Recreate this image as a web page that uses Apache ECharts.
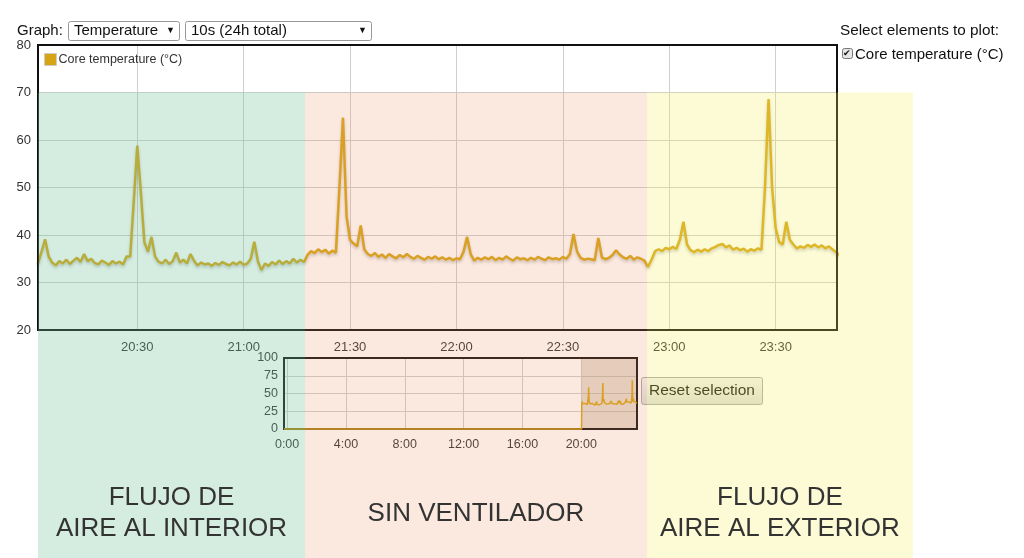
<!DOCTYPE html>
<html><head><meta charset="utf-8">
<script src="https://cdn.jsdelivr.net/npm/echarts@6/dist/echarts.min.js"></script>
<style>html,body{margin:0;padding:0;background:#fff;} #c{width:1024px;height:558px;}</style>
</head><body><div id="c"></div>
<script>
// ---------------- data ----------------
const seriesName = 'Core temperature (°C)';
const startMinute = 2;      // first sample, minutes after 20:00
const stepMinutes = 1;      // sample spacing (minutes)
const temps = [
  34.0, 36.5, 39.1, 35.5, 34.2, 33.6, 34.5, 34.0, 34.8, 33.9,
  34.6, 35.2, 34.3, 36.0, 34.5, 35.0, 34.1, 33.8, 34.6, 34.2,
  33.7, 34.5, 34.0, 34.4, 33.8, 35.5, 35.5, 47.0, 58.8, 49.0,
  38.5, 36.5, 39.6, 35.5, 34.4, 34.0, 34.8, 33.9, 34.5, 36.3,
  34.2, 34.8, 34.0, 36.0, 34.6, 33.6, 34.2, 33.8, 34.0, 33.5,
  34.1, 33.7, 34.3, 33.9, 33.6, 34.2, 33.8, 34.4, 33.7, 34.0,
  35.0, 38.6, 34.5, 32.6, 34.0, 33.5, 34.3, 33.8, 34.6, 33.9,
  34.5, 34.0, 35.0, 34.2, 34.8, 34.3, 35.8, 36.6, 36.2, 37.0,
  36.4, 36.9, 36.1, 36.7, 36.3, 50.0, 64.7, 44.0, 39.0, 38.2,
  37.6, 42.0, 37.0, 36.0, 35.6, 36.2, 35.4, 35.9, 35.2, 36.0,
  35.5, 35.1, 35.8, 35.3, 36.0, 35.4, 35.0, 35.6, 35.2, 34.8,
  35.4, 35.0, 35.5, 34.9, 35.3, 34.8, 35.2, 34.7, 35.1, 34.9,
  36.5, 39.6, 36.0, 34.6, 35.2, 34.8, 35.3, 34.9, 35.4, 34.7,
  35.2, 34.8, 35.5, 35.0, 34.6, 35.3, 34.9, 35.1, 34.7, 35.2,
  34.8, 35.4, 35.0, 34.7, 35.3, 34.9, 35.1, 34.8, 35.4, 35.0,
  36.0, 40.2, 36.5, 35.2, 34.8, 35.0, 34.9, 34.7, 39.4, 35.3,
  34.9, 35.2, 35.8, 36.8, 35.9, 35.3, 35.0, 35.6, 34.8, 35.3,
  35.0, 34.6, 33.3, 34.8, 36.6, 37.0, 36.6, 37.3, 37.0, 37.5,
  37.1, 39.0, 42.8, 38.0, 36.8, 36.4, 36.9, 36.5, 37.0, 36.6,
  37.2, 37.5, 37.9, 38.1, 37.4, 37.8, 36.9, 37.3, 36.8, 37.1,
  36.5, 37.0, 36.7, 37.2, 36.9, 50.0, 68.6, 50.0, 41.5, 38.5,
  38.0, 42.8, 39.0, 38.0, 37.2, 37.6, 37.3, 37.9, 37.5, 38.0,
  37.4, 37.8, 37.2, 37.6, 37.0, 36.4, 35.8
];
const mainMinMinute = 2;
const mainMaxMinute = 227.3;
const mainYMin = 20, mainYMax = 80, mainYStep = 10;
const overviewMinMinute = mainMaxMinute - 1440;   // 24h window
const overviewZeroMinutes = [overviewMinMinute, 1]; // sensor reading 0 before start
const overviewZeroValues = [0, 0];
const overviewYMin = 0, overviewYMax = 100, overviewYStep = 25;

const zoneLabels = [['FLUJO DE', 'AIRE AL INTERIOR'], ['SIN VENTILADOR'], ['FLUJO DE', 'AIRE AL EXTERIOR']];
const zoneStartMinute = [2, 77.3, 173.7];
const zoneEndMinute = [77.3, 173.7, 248.7];
const zoneTopValue = 70;
const zoneColors = ['rgba(115,195,152,0.30)', 'rgba(235,145,95,0.20)', 'rgba(247,239,91,0.25)'];

// ---------------- build ----------------
const base = new Date(2020, 5, 15, 20, 0, 0).getTime();
const T = m => base + m * 60000;
const mainData = temps.map((v, i) => [T(startMinute + i * stepMinutes), v]);
const overviewData = overviewZeroMinutes.map((m, i) => [T(m), overviewZeroValues[i]]).concat(mainData);

const FONT = '"Liberation Sans", Arial, Helvetica, sans-serif';
const GOLD = '#d6a414';

const chart = echarts.init(document.getElementById('c'));
chart.setOption({
  animation: false,
  backgroundColor: '#ffffff',
  textStyle: { fontFamily: FONT },
  legend: {
    data: [seriesName], left: 44, top: 53, itemWidth: 12, itemHeight: 12, icon: 'rect',
    itemGap: 4, padding: 0,
    textStyle: { fontSize: 12.5, color: '#333', fontFamily: FONT, padding: [0, 0, 0, -3] },
    itemStyle: { borderColor: '#cccccc', borderWidth: 1 }
  },
  grid: [
    { left: 38, top: 45, right: 187, bottom: 228, show: false, containLabel: false },
    { left: 284, top: 358, right: 387, bottom: 129, show: false, containLabel: false }
  ],
  xAxis: [
    { type: 'time', gridIndex: 0, min: T(mainMinMinute), max: T(mainMaxMinute),
      minInterval: 35 * 60000, maxInterval: 35 * 60000,
      axisLine: { show: false }, axisTick: { show: false },
      splitLine: { show: true, lineStyle: { color: '#cfcfcf', width: 1 } },
      axisLabel: { formatter: '{H}:{mm}', fontSize: 13, color: '#333', margin: 11, showMinLabel: false, showMaxLabel: false, fontFamily: FONT } },
    { type: 'time', gridIndex: 1, min: T(overviewMinMinute), max: T(mainMaxMinute),
      minInterval: 4.5 * 3600000, maxInterval: 4.5 * 3600000,
      axisLine: { show: false }, axisTick: { show: false },
      splitLine: { show: true, lineStyle: { color: '#cfcfcf', width: 1 } },
      axisLabel: { formatter: '{H}:{mm}', fontSize: 12.5, color: '#333', margin: 9, showMinLabel: false, showMaxLabel: false, fontFamily: FONT } }
  ],
  yAxis: [
    { type: 'value', gridIndex: 0, min: mainYMin, max: mainYMax, interval: mainYStep,
      axisLine: { show: false }, axisTick: { show: false },
      splitLine: { show: true, lineStyle: { color: '#cfcfcf', width: 1 } },
      axisLabel: { fontSize: 13, color: '#333', margin: 7, fontFamily: FONT } },
    { type: 'value', gridIndex: 1, min: overviewYMin, max: overviewYMax, interval: overviewYStep,
      axisLine: { show: false }, axisTick: { show: false },
      splitLine: { show: true, lineStyle: { color: '#cfcfcf', width: 1 } },
      axisLabel: { fontSize: 12.5, color: '#333', margin: 6, fontFamily: FONT } }
  ],
  series: [
    { name: seriesName, type: 'line', xAxisIndex: 0, yAxisIndex: 0, data: mainData,
      showSymbol: false, symbol: 'none', color: GOLD,
      lineStyle: { color: GOLD, width: 2.5, shadowColor: 'rgba(0,0,0,0.22)', shadowBlur: 3, shadowOffsetY: 2 } },
    { name: 'overview', type: 'line', xAxisIndex: 1, yAxisIndex: 1, data: overviewData,
      showSymbol: false, symbol: 'none', color: GOLD, clip: false,
      lineStyle: { color: GOLD, width: 1.5 },
      markArea: { silent: true, itemStyle: { color: 'rgba(175,150,115,0.32)' },
        data: [[{ xAxis: T(mainMinMinute) }, { xAxis: T(mainMaxMinute) }]] } }
  ]
});

// ---------------- overlay graphics ----------------
const g = [];
function txt(x, y, text, size, opts) {
  return Object.assign({ type: 'text', x: x, y: y, z: 10,
    style: Object.assign({ text: text, fontSize: size, fontFamily: FONT, fill: '#111',
      align: 'left', verticalAlign: 'middle', textAlign: 'left', textVerticalAlign: 'middle' }, (opts && opts.style) || {}) },
    opts && opts.el || {});
}
// plot frames, from each grid's axis extents
function frame(xi, yi, x0v, x1v, y0v, y1v, z) {
  const a = chart.convertToPixel({ xAxisIndex: xi, yAxisIndex: yi }, [x0v, y1v]);
  const b = chart.convertToPixel({ xAxisIndex: xi, yAxisIndex: yi }, [x1v, y0v]);
  g.push({ type: 'rect', z: z, silent: true,
    shape: { x: Math.round(a[0]), y: Math.round(a[1]), width: Math.round(b[0] - a[0]), height: Math.round(b[1] - a[1]) },
    style: { fill: null, stroke: '#111', lineWidth: 2 } });
}
frame(0, 0, T(mainMinMinute), T(mainMaxMinute), mainYMin, mainYMax, 20);
frame(1, 1, T(overviewMinMinute), T(mainMaxMinute), overviewYMin, overviewYMax, 1);
// top controls
g.push(txt(17, 31, 'Graph:', 15));
g.push({ type: 'rect', z: 10, shape: { x: 68.5, y: 21.5, width: 111, height: 19, r: 2 }, style: { fill: '#fff', stroke: '#999', lineWidth: 1 } });
g.push(txt(74, 31, 'Temperature', 15));
g.push(txt(166, 31, '▼', 9));
g.push({ type: 'rect', z: 10, shape: { x: 185.5, y: 21.5, width: 186, height: 19, r: 2 }, style: { fill: '#fff', stroke: '#999', lineWidth: 1 } });
g.push(txt(191, 31, '10s (24h total)', 15));
g.push(txt(358, 31, '▼', 9));
g.push(txt(840, 31, 'Select elements to plot:', 15.3));
g.push({ type: 'rect', z: 10, shape: { x: 842.5, y: 48.5, width: 10, height: 10, r: 2 }, style: { fill: '#e6e6e6', stroke: '#777', lineWidth: 1 } });
g.push(txt(843, 54, '✔', 9));
g.push(txt(855, 55, 'Core temperature (°C)', 15));
// reset button
g.push({ type: 'rect', z: 10, shape: { x: 641.5, y: 377.5, width: 121, height: 27, r: 2 },
  style: { fill: new echarts.graphic.LinearGradient(0, 0, 0, 1, [{ offset: 0, color: '#f4f4f4' }, { offset: 1, color: '#dcdcdc' }]), stroke: '#a8a8a8', lineWidth: 1 } });
g.push(txt(702, 391, 'Reset selection', 15.5, { style: { align: 'center', textAlign: 'center' } }));
// zones
const H = chart.getHeight();
const zTop = chart.convertToPixel({ yAxisIndex: 0 }, zoneTopValue);
zoneLabels.forEach((lines, i) => {
  const x0 = chart.convertToPixel({ xAxisIndex: 0 }, T(zoneStartMinute[i]));
  const x1 = chart.convertToPixel({ xAxisIndex: 0 }, T(zoneEndMinute[i]));
  g.push({ type: 'rect', z: 50, silent: true, shape: { x: x0, y: zTop, width: x1 - x0, height: H - zTop }, style: { fill: zoneColors[i] } });
  const cx = (x0 + x1) / 2;
  const lh = 31;
  const cy = lines.length === 1 ? 514 : 498;
  lines.forEach((ln, k) => {
    g.push({ type: 'text', z: 60, silent: true, x: cx, y: cy + k * lh,
      style: { text: ln, fontSize: 26, fontFamily: FONT, fill: '#333', align: 'center', verticalAlign: 'middle', textAlign: 'center', textVerticalAlign: 'middle' } });
  });
});
chart.setOption({ graphic: g });
</script>
</body></html>
